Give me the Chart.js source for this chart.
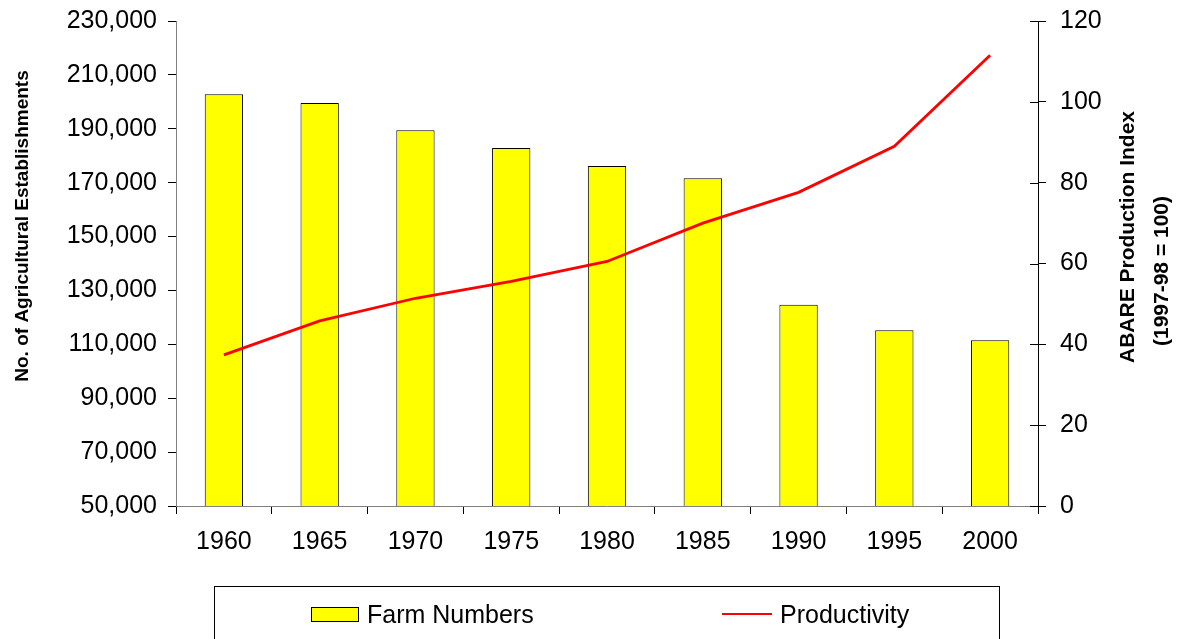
<!DOCTYPE html>
<html>
<head>
<meta charset="utf-8">
<script src="https://cdn.jsdelivr.net/npm/chart.js@4.4.1/dist/chart.umd.min.js"></script>
<style>
    html, body { margin: 0; padding: 0; background: #fff; overflow: hidden; }
    #wrap { position: relative; width: 1180px; height: 639px; }
    #legend {
        position: absolute; left: 214px; top: 586px; width: 786px; height: 80px;
        border: 1px solid #000; box-sizing: border-box;
        font-family: "Liberation Sans", Arial, sans-serif; font-size: 25px; color: #000;
    }
    .item { position: absolute; top: 12px; height: 30px; display: flex; align-items: center; }
    .swatch { width: 46px; height: 13px; background: #ffff00; border: 1px solid #000; margin-right: 8px; }
    .dash { width: 50px; height: 2px; background: #ff0000; margin-right: 8px; }
</style>
</head>
<body>
<div id="wrap">
    <canvas id="farmChart" width="1180" height="639"></canvas>
    <div id="legend"></div>
</div>
<script>
const years = ["1960", "1965", "1970", "1975", "1980", "1985", "1990", "1995", "2000"];
const farmNumbers = [202800, 199600, 189500, 182900, 176200, 171600, 124700, 115200, 111500];
const productivity = [37.4, 45.8, 51.4, 55.6, 60.5, 70.0, 77.6, 89.0, 111.5];

const leftTitle = "No. of Agricultural Establishments";
const rightTitle = ["ABARE Production Index", "(1997-98 = 100)"];

const FONT = "'Liberation Sans', Arial, sans-serif";

// axis titles read bottom-to-top on both sides, so draw them by hand
const axisTitles = {
    id: "axisTitles",
    afterDraw(chart) {
        const ctx = chart.ctx;
        const y1 = chart.scales.y1;
        ctx.save();

        // right axis ticks cross the axis line
        ctx.strokeStyle = "#000";
        ctx.lineWidth = 1;
        y1.ticks.forEach(t => {
            const py = Math.round(y1.getPixelForValue(t.value)) + 0.5;
            ctx.beginPath();
            ctx.moveTo(y1.left - 8, py);
            ctx.lineTo(y1.left, py);
            ctx.stroke();
        });

        ctx.fillStyle = "#000";
        ctx.textAlign = "center";
        ctx.textBaseline = "middle";

        ctx.font = "bold 19px " + FONT;
        ctx.translate(23, 226);
        ctx.rotate(-Math.PI / 2);
        ctx.fillText(leftTitle, 0, 0);
        ctx.setTransform(1, 0, 0, 1, 0, 0);

        ctx.font = "bold 21px " + FONT;
        ctx.translate(1128, 237);
        ctx.rotate(-Math.PI / 2);
        ctx.fillText(rightTitle[0], 0, 0);
        ctx.setTransform(1, 0, 0, 1, 0, 0);

        ctx.translate(1162, 271);
        ctx.rotate(-Math.PI / 2);
        ctx.fillText(rightTitle[1], 0, 0);
        ctx.restore();
    }
};

function fixVertical(width) {
    return s => {
        s.width = width;
        s.paddingTop = 0;
        s.paddingBottom = 0;
    };
}

const chart = new Chart(document.getElementById("farmChart"), {
    data: {
        labels: years,
        datasets: [
            {
                type: "line",
                label: "Productivity",
                data: productivity,
                yAxisID: "y1",
                borderColor: "#ff0000",
                borderWidth: 2.8,
                pointRadius: 0,
                tension: 0,
                order: 0
            },
            {
                type: "bar",
                label: "Farm Numbers",
                data: farmNumbers,
                yAxisID: "y",
                backgroundColor: "#ffff00",
                borderColor: "#000",
                borderWidth: 1,
                barPercentage: 0.4,
                categoryPercentage: 1.0,
                order: 1
            }
        ]
    },
    options: {
        responsive: false,
        animation: false,
        layout: { padding: { top: 21, left: 0, right: 0, bottom: 0 } },
        plugins: {
            legend: { display: false },
            tooltip: { enabled: false }
        },
        scales: {
            x: {
                type: "category",
                offset: true,
                grid: { offset: true, drawOnChartArea: false, tickLength: 8, color: "#000" },
                border: { color: "#808080", width: 1 },
                ticks: { color: "#000", font: { family: FONT, size: 25 }, padding: 13, maxRotation: 0 },
                afterFit: s => { s.height = 133; }
            },
            y: {
                position: "left",
                min: 50000,
                max: 230000,
                grid: { drawOnChartArea: false, tickLength: 8, color: "#000" },
                border: { color: "#808080", width: 1 },
                ticks: {
                    stepSize: 20000,
                    color: "#000",
                    padding: 11,
                    font: { family: FONT, size: 25 },
                    callback: v => v.toLocaleString("en-US")
                },
                afterFit: fixVertical(176)
            },
            y1: {
                position: "right",
                min: 0,
                max: 120,
                grid: { drawOnChartArea: false, tickLength: 8, color: "#000" },
                border: { color: "#000", width: 1 },
                ticks: { stepSize: 20, color: "#000", padding: 14, font: { family: FONT, size: 25 } },
                afterFit: fixVertical(142)
            }
        }
    },
    plugins: [axisTitles]
});

// legend built from the chart's own datasets
const legendEl = document.getElementById("legend");
const legendPos = { "Farm Numbers": 96, "Productivity": 507 };
chart.data.datasets.slice().reverse().forEach(ds => {
    const item = document.createElement("div");
    item.className = "item";
    item.style.left = legendPos[ds.label] + "px";
    const mark = document.createElement("span");
    mark.className = ds.type === "bar" ? "swatch" : "dash";
    const text = document.createElement("span");
    text.textContent = ds.label;
    item.appendChild(mark);
    item.appendChild(text);
    legendEl.appendChild(item);
});
</script>
</body>
</html>
